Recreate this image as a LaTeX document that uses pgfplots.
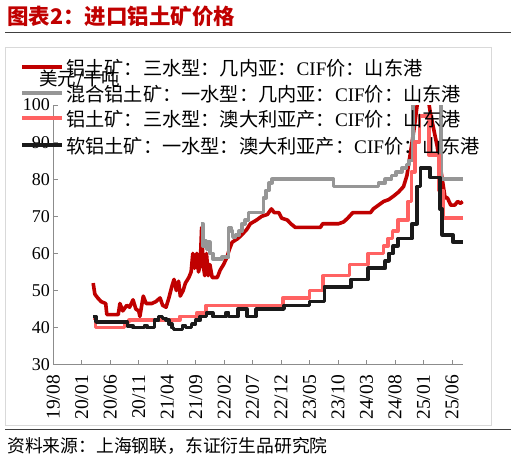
\documentclass[border=0pt]{standalone}
\usepackage{fontspec}
\setmainfont{Liberation Serif}
\newfontfamily\cjk{Noto Sans CJK SC}
\usepackage{pgfplots}
\pgfplotsset{compat=1.18}
\definecolor{cRed}{HTML}{C00000}
\definecolor{cGray}{HTML}{969696}
\definecolor{cLRed}{HTML}{FF6262}
\definecolor{cBlack}{HTML}{1A1A1A}
\definecolor{cAxis}{HTML}{8C8C8C}
\begin{document}
\begin{tikzpicture}[x=1pt,y=1pt]
\useasboundingbox (0,0) rectangle (516,-460);
\draw[color=black!15, line width=0.6] (5,-47) rectangle (491.7,-425);
\draw[color=black!75, line width=1] (5,-32.3) -- (511,-32.3);
\draw[color=black!75, line width=1] (5,-429.3) -- (511,-429.3);
\node[anchor=base west, inner sep=0, text=cRed, font=\cjk\bfseries\fontsize{21.5}{24}\selectfont] at (7,-24.5) {图表2：进口铝土矿价格};
\node[anchor=base west, inner sep=0, font=\cjk\fontsize{17.8}{20}\selectfont] at (7,-452) {资料来源：上海钢联，东证衍生品研究院};
\node[anchor=west, inner sep=0, font=\cjk\fontsize{18.5}{20}\selectfont] at (39,-79) {美元/干吨};
\begin{axis}[
  at={(53.3pt,-364.7pt)}, anchor=south west,
  scale only axis, width=410pt, height=259.7pt,
  xmin=0, xmax=72, ymin=30, ymax=100,
  axis x line*=bottom, axis y line*=left,
  axis line style={color=cAxis, line width=0.8pt, -},
  tick style={color=cAxis, line width=0.8pt},
  tick align=inside, major tick length=5pt,
  xtick={0,5,...,70},
  xticklabels={19/08,20/01,20/06,20/11,21/04,21/09,22/02,22/07,22/12,23/05,23/10,24/03,24/08,25/01,25/06},
  x tick label style={rotate=90, anchor=east, font=\fontsize{19.5}{19.5}\selectfont},
  xticklabel shift={7pt},
  ytick={30,40,...,100},
  y tick label style={font=\fontsize{18}{18}\selectfont},
  /pgf/number format/assume math mode=true,
  every axis plot/.append style={line width=3.6pt, line join=round},
]
\addplot[cRed] coordinates {
(7.0,52) (7.3,49) (7.8,48) (8.4,47) (9.2,46.5) (9.4,43.5) (11.4,43.5) (11.7,46.5) (12.2,44.5) (12.9,46) (13.4,45.5) (14.0,47.5) (14.5,45) (15.0,44.5) (15.2,43) (15.8,48.5) (16.3,46.5) (17.3,46.5) (18.0,47) (18.75,48) (19.2,46) (19.8,45.5) (20.3,48) (20.8,51) (21.2,53) (21.6,50) (22.0,52.5) (22.3,48.5) (22.8,50) (23.2,52) (23.8,53.5) (24.2,55) (24.5,60) (24.8,56) (25.2,60) (25.5,55) (25.8,57) (26.05,67) (26.3,57) (26.6,54) (26.9,60) (27.2,54) (27.5,57) (27.9,53.5) (28.8,53.5) (29.3,55.5) (29.9,57) (30.5,59) (30.9,61) (31.4,63) (32.4,64) (33.1,65) (34.0,66.5) (34.6,68) (35.7,69) (36.6,70) (37.6,70.5) (38.3,72) (38.8,71) (39.6,71) (40.1,69.5) (41.1,69) (41.7,68) (42.5,67) (46.9,67) (47.3,68) (50.1,68) (51.0,68.5) (51.7,69.5) (52.6,71) (55.7,71) (56.2,72) (57.1,73) (58.0,74) (58.9,74.5) (59.8,75.5) (60.6,76.5) (61.5,78) (62.1,81) (62.8,88) (63.4,94) (63.9,100) (64.5,104) (65.6,104) (66.2,98) (67.4,89) (68.3,80) (68.8,75) (69.2,75) (69.8,73) (70.5,73) (71.0,74) (71.5,73.5) (71.9,74)
};
\addplot[cGray, const plot] coordinates {
(26.0,68) (26.3,62) (26.6,63.5) (26.9,61) (27.2,63) (27.5,60) (28.0,58.5) (29.6,59) (30.8,67) (31.2,66) (31.5,64.5) (32.0,65) (32.6,66) (33.1,68) (33.7,69) (34.3,71) (36.9,75) (37.4,77) (37.9,79) (38.4,80) (49.2,78) (57.1,79) (58.3,80) (59.4,81) (60.2,82) (61.2,83) (62.0,84) (62.5,85) (63.2,102) (68.1,80) (72,80)
};
\addplot[cLRed, const plot] coordinates {
(7.0,42.5) (7.4,40) (12.5,41.5) (13.3,42) (22.2,43) (25.2,44) (26.8,46) (40.3,48) (45.0,50) (47.4,54) (52.0,57) (55.3,60) (58.0,62) (58.8,64) (59.6,66) (60.5,69) (62.3,74) (62.9,82) (63.5,90) (64.3,97) (66.0,86.5) (67.7,77) (68.4,69.5) (72,69.5)
};
\addplot[cBlack, const plot] coordinates {
(7.0,43) (7.5,41.5) (13.0,40.5) (14.0,40) (16.0,40.5) (16.5,40) (17.8,42) (18.5,43) (19.2,42.5) (19.8,42) (20.3,41) (20.8,40) (21.1,39.5) (22.7,40.5) (23.2,40) (24.3,41) (25.0,42) (25.8,43) (26.9,44) (28.0,43) (30.3,44) (30.8,43) (32.4,45) (34.0,43) (35.6,45) (40.5,46) (45.0,47) (47.6,51) (52.3,53) (55.3,56) (58.3,58) (58.9,60) (59.7,62) (60.5,64) (63.0,68) (63.9,78) (64.5,83) (66.2,80.5) (67.9,72) (68.3,65) (70.2,63) (72,63)
};
\end{axis}
% legend
\draw[cRed, line width=4pt] (22,-67) -- (62,-67);
\draw[cGray, line width=4pt] (22,-93) -- (62,-93);
\draw[cLRed, line width=4pt] (22,-118.3) -- (62,-118.3);
\draw[cBlack, line width=4pt] (22,-145) -- (62,-145);
\begin{scope}[every node/.style={anchor=west, inner sep=0, font=\fontsize{19.2}{20}\selectfont}]
\node at (66,-68) {{\cjk 铝土矿：三水型：几内亚：}CIF{\cjk 价：山东港}};
\node at (66,-94) {{\cjk 混合铝土矿：一水型：几内亚：}CIF{\cjk 价：山东港}};
\node at (66,-119.3) {{\cjk 铝土矿：三水型：澳大利亚产：}CIF{\cjk 价：山东港}};
\node at (66,-146) {{\cjk 软铝土矿：一水型：澳大利亚产：}CIF{\cjk 价：山东港}};
\end{scope}
\end{tikzpicture}
\end{document}
